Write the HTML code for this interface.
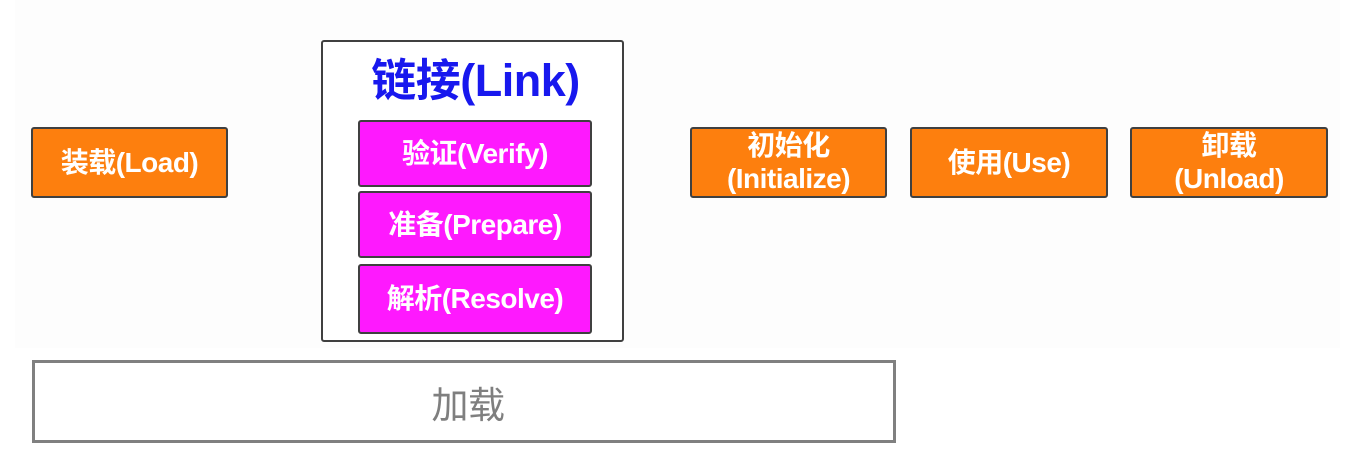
<!DOCTYPE html>
<html><head><meta charset="utf-8"><style>
body{margin:0;width:1370px;height:451px;background:#fff;position:relative;overflow:hidden;font-family:"Liberation Sans","Noto Sans CJK SC",sans-serif}
.bg{position:absolute;left:15px;top:0;width:1325px;height:348px;background:#fdfdfd}
.b{position:absolute;box-sizing:border-box;display:flex;align-items:center;justify-content:center;text-align:center;color:#fff;font-weight:bold;border:2px solid #404040;border-radius:3px;line-height:1.2;letter-spacing:-0.5px}
.o{background:#fd7f0e;font-size:28px}
.m{background:#fe19fe;font-size:28px}
</style></head><body>
<div class="bg"></div>
<div class="b o" style="left:31px;top:127px;width:197px;height:71px">装载(Load)</div>
<div class="b" style="left:321px;top:40px;width:303px;height:302px;background:#fff;align-items:flex-start;padding-top:12px;padding-left:6px;color:#1818ee;font-size:45px">链接(Link)</div>
<div class="b m" style="left:358px;top:120px;width:234px;height:67px">验证(Verify)</div>
<div class="b m" style="left:358px;top:191px;width:234px;height:67px">准备(Prepare)</div>
<div class="b m" style="left:358px;top:264px;width:234px;height:70px">解析(Resolve)</div>
<div class="b o" style="left:690px;top:127px;width:197px;height:71px;line-height:1.15">初始化<br>(Initialize)</div>
<div class="b o" style="left:910px;top:127px;width:198px;height:71px">使用(Use)</div>
<div class="b o" style="left:1130px;top:127px;width:198px;height:71px;line-height:1.15">卸载<br>(Unload)</div>
<div class="b" style="left:32px;top:360px;width:864px;height:83px;border:3px solid #808080;border-radius:0;background:#fff;color:#7f7f7f;font-weight:normal;font-size:37px;padding-top:10px;padding-left:8px">加载</div>
</body></html>
